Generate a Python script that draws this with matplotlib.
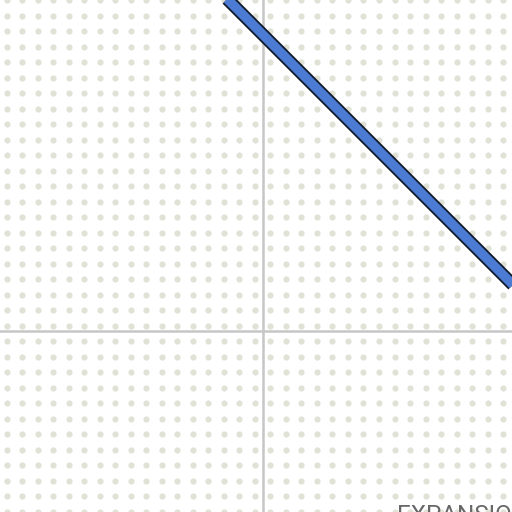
import numpy as np
import matplotlib
matplotlib.use("Agg")
import matplotlib.pyplot as plt
import matplotlib.patheffects as pe

# curve data (one unit = one dot spacing)
line_x = [-4.0, 23.0]
line_y = [23.1, -3.9]
label_text = "EXPANSION"

fig = plt.figure(figsize=(5.12, 5.12), dpi=100)
ax = fig.add_axes([0, 0, 1, 1])
ax.set_xlim(-16.97, 16.06)
ax.set_ylim(-11.68, 21.35)
ax.axis("off")

#dotted background
gx, gy = np.meshgrid(np.arange(-16.52, 17, 1.0), np.arange(-11.65, 22, 1.0))
ax.scatter(gx.ravel(), gy.ravel(), s=20, color="#e0e2d6", linewidths=0, zorder=1)

#axes through origin
ax.axvline(0, color="#c6c6c6", lw=1.8, zorder=2)
ax.axhline(0, color="#c6c6c6", lw=1.8, zorder=2)

#the curve
ax.plot(line_x, line_y, color="#4b7bd3", lw=6.8, solid_capstyle="butt", zorder=3,
        path_effects=[pe.Stroke(linewidth=9.4, foreground="#111a2a"), pe.Normal()])

ax.text(8.65, -11.15, label_text, fontsize=17.5, family="Roboto", color="#686868",
        va="top", ha="left", zorder=4)

fig.savefig("out.png", dpi=100)
